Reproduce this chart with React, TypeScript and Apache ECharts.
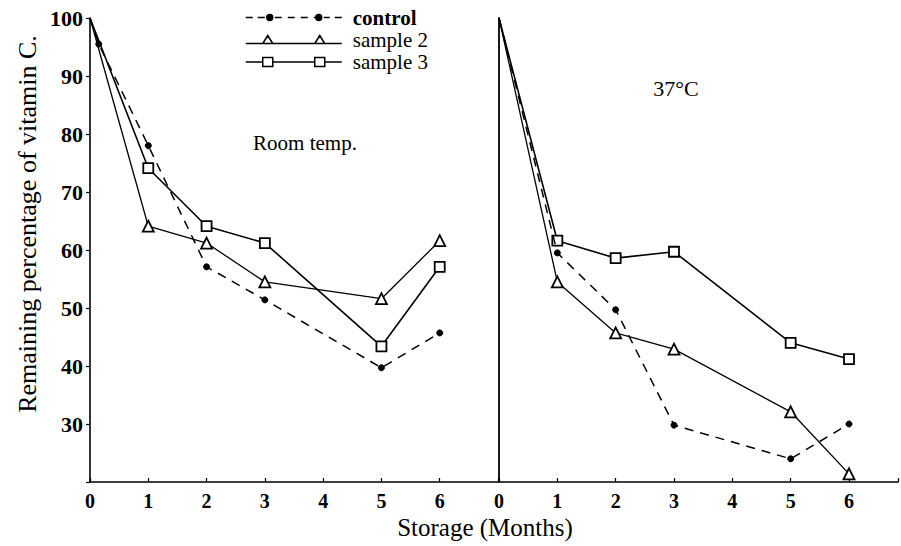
import React, { useEffect, useRef } from "react";
import * as echarts from "echarts";

// Months at which samples were measured
const months = [0, 1, 2, 3, 5, 6];

// Room temperature panel (remaining % of vitamin C)
const roomControl = [100, 78, 57.1, 51.4, 39.7, 45.7];
const roomControlEarly = [0.15, 95.5]; // extra early measurement on control line
const roomSample2 = [100, 64.1, 61.2, 54.5, 51.6, 61.6];
const roomSample3 = [100, 74.1, 64.1, 61.2, 43.4, 57.1];

// 37°C panel
const hotControl = [100, 59.5, 49.7, 29.8, 24.0, 30.0];
const hotSample2 = [100, 54.5, 45.7, 42.9, 32.1, 21.4];
const hotSample3 = [100, 61.6, 58.6, 59.7, 44.0, 41.2];

const seriesNames = ["control", "sample 2", "sample 3"];
const yTicks = [30, 40, 50, 60, 70, 80, 90, 100];
const xTickLabels = ["0", "1", "2", "3", "4", "5", "6"];

const FONT = "'Liberation Serif', 'DejaVu Serif', serif";

// legend icons: line with two markers (old-style key)
const ICON_CONTROL =
  "path://M0 0 M96 12 M0 6 H7 M12 6 H19 M29 6 H36 M42 6 H49 M55 6 H62 M68 6 H70 M78 6 H84 M89 6 H96 " +
  "M21 6 A3 3 0 1 0 27 6 A3 3 0 1 0 21 6 Z M70 6 A3 3 0 1 0 76 6 A3 3 0 1 0 70 6 Z";
const ICON_S2 =
  "path://M0 0 M96 12 M0 10 H17 M27 10 H69 M79 10 H96 M22 2 L27 10 L17 10 Z M74 2 L79 10 L69 10 Z";
const ICON_S3 =
  "path://M0 0 M96 12 M0 6.5 H17 M27 6.5 H69 M79 6.5 H96 M17 2 H27 V11 H17 Z M69 2 H79 V11 H69 Z";

function toPoints(values: number[], extra?: number[]) {
  const pts: any[] = values.map((v, i) =>
    i === 0 ? { value: [months[i], v], symbol: "none" } : [months[i], v]
  );
  if (extra) pts.splice(1, 0, extra);
  return pts;
}

export default function App() {
  const ref = useRef<HTMLDivElement>(null);
  useEffect(() => {
    if (!ref.current) return;
    const chart = echarts.init(ref.current, undefined, { renderer: "svg" });

    const xAxisBase = (gridIndex: number, max: number) => ({
      type: "value",
      gridIndex,
      min: 0,
      max,
      interval: 1,
      axisLine: { show: true, onZero: false, lineStyle: { color: "#000", width: 1.6 } },
      axisTick: { show: true, inside: true, length: 4, lineStyle: { color: "#000", width: 1.2 } },
      axisLabel: {
        color: "#000",
        fontFamily: FONT,
        fontSize: 20,
        fontWeight: "bold",
        margin: 9,
        showMaxLabel: true,
        formatter: (v: number) => {
          const s = String(v);
          return xTickLabels.includes(s) ? s : "";
        },
      },
      splitLine: { show: false },
    });

    const lineCommon = (name: string, xi: number) => {
      const idx = seriesNames.indexOf(name);
      const base: any = {
        name,
        type: "line",
        xAxisIndex: xi,
        yAxisIndex: xi,
        color: "#000",
        z: 3 - idx,
      };
      if (idx === 0) {
        base.symbol = "circle";
        base.symbolSize = 6;
        base.lineStyle = { color: "#000", width: 1.5, type: [9, 7] };
        base.itemStyle = { color: "#000", borderColor: "#000", borderWidth: 1 };
      } else if (idx === 1) {
        base.symbol = "triangle";
        base.symbolSize = 11;
        base.lineStyle = { color: "#000", width: 1.3 };
        base.itemStyle = { color: "#fff", borderColor: "#000", borderWidth: 1.8 };
      } else {
        base.symbol = "rect";
        base.symbolSize = 10;
        base.lineStyle = { color: "#000", width: 1.6 };
        base.itemStyle = { color: "#fff", borderColor: "#000", borderWidth: 1.8 };
      }
      return base;
    };

    const option: any = {
      animation: false,
      backgroundColor: "#fff",
      grid: [
        { left: 90, top: 18, width: 408, height: 464 },
        { left: 499, top: 18, width: 402, height: 464 },
      ],
      xAxis: [xAxisBase(0, 7), xAxisBase(1, 6.84)],
      yAxis: [
        {
          type: "value",
          gridIndex: 0,
          min: 20,
          max: 100,
          interval: 10,
          axisLine: { show: true, lineStyle: { color: "#000", width: 1.6 } },
          axisTick: { show: true, length: 4, lineStyle: { color: "#000", width: 1.2 } },
          axisLabel: {
            color: "#000",
            fontFamily: FONT,
            fontSize: 22,
            fontWeight: "bold",
            margin: 7,
            formatter: (v: number) => (yTicks.includes(v) ? String(v) : ""),
          },
          splitLine: { show: false },
        },
        {
          type: "value",
          gridIndex: 1,
          min: 20,
          max: 100,
          interval: 10,
          axisLine: { show: true, lineStyle: { color: "#000", width: 1.8 } },
          axisTick: { show: false },
          axisLabel: { show: false },
          splitLine: { show: false },
        },
      ],
      legend: {
        orient: "vertical",
        left: 240,
        top: 2,
        itemWidth: 96,
        itemHeight: 12,
        itemGap: 1,
        data: [
          {
            name: "control",
            icon: ICON_CONTROL,
            itemStyle: { color: "#000", borderColor: "#000", borderWidth: 1.4 },
            textStyle: { fontWeight: "bold" },
          },
          {
            name: "sample 2",
            icon: ICON_S2,
            itemStyle: { color: "#fff", borderColor: "#000", borderWidth: 1.5 },
          },
          {
            name: "sample 3",
            icon: ICON_S3,
            itemStyle: { color: "#fff", borderColor: "#000", borderWidth: 1.5 },
          },
        ],
        textStyle: { color: "#000", fontFamily: FONT, fontSize: 21, padding: [0, 0, 0, 6] },
      },
      graphic: [
        {
          type: "text",
          x: 27,
          y: 224,
          rotation: Math.PI / 2,
          style: {
            text: "Remaining percentage of vitamin C.",
            font: `26px ${FONT}`,
            fill: "#000",
            align: "center",
            verticalAlign: "middle",
          },
        },
        {
          type: "text",
          x: 485,
          y: 527,
          style: {
            text: "Storage (Months)",
            font: `25px ${FONT}`,
            fill: "#000",
            align: "center",
            verticalAlign: "middle",
          },
        },
        {
          type: "text",
          x: 305,
          y: 143,
          style: {
            text: "Room temp.",
            font: `21px ${FONT}`,
            fill: "#000",
            align: "center",
            verticalAlign: "middle",
          },
        },
        {
          type: "text",
          x: 676,
          y: 88,
          style: {
            text: "37°C",
            font: `22px ${FONT}`,
            fill: "#000",
            align: "center",
            verticalAlign: "middle",
          },
        },
      ],
      series: [
        { ...lineCommon("control", 0), data: toPoints(roomControl, roomControlEarly) },
        { ...lineCommon("sample 2", 0), data: toPoints(roomSample2) },
        { ...lineCommon("sample 3", 0), data: toPoints(roomSample3) },
        { ...lineCommon("control", 1), data: toPoints(hotControl) },
        { ...lineCommon("sample 2", 1), data: toPoints(hotSample2) },
        { ...lineCommon("sample 3", 1), data: toPoints(hotSample3) },
      ],
    };
    chart.setOption(option);
    return () => chart.dispose();
  }, []);
  return (
    <div
      ref={ref}
      style={{ position: "absolute", left: 0, top: 0, width: 901, height: 546, background: "#fff" }}
    />
  );
}
